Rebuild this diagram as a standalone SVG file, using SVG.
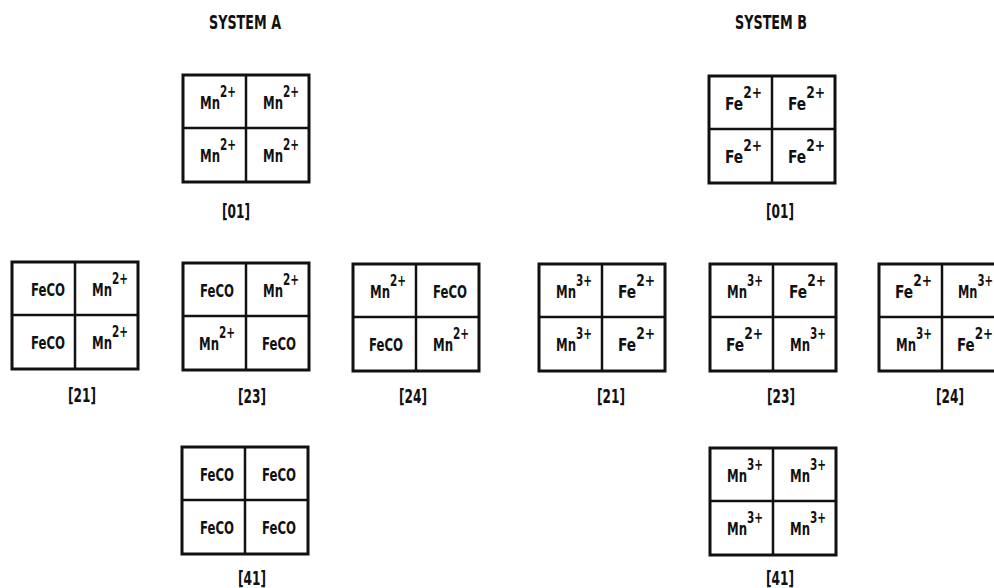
<svg xmlns="http://www.w3.org/2000/svg" width="994" height="588" viewBox="0 0 994 588">
<style>
.bg{fill:#fff}
.box{fill:#fff;stroke:#111;stroke-width:3}
.div{stroke:#111;stroke-width:2.5;fill:none}
text{font-family:"DejaVu Sans Condensed","Liberation Sans Narrow","Liberation Sans",sans-serif;font-weight:bold;fill:#111;font-size:18.5px}
.sup{font-size:16.5px}
.lbl{text-anchor:middle;font-size:19px}
</style>
<defs>
<g id="grid">
<rect class="box" x="0" y="0" width="126" height="107"/>
<line class="div" x1="63" y1="0" x2="63" y2="107"/>
<line class="div" x1="0" y1="53" x2="126" y2="53"/>
</g>
</defs>
<rect class="bg" x="0" y="0" width="994" height="588"/>
<g id="titles">
<text class="lbl" x="245" y="29" font-size="18.5" textLength="72" lengthAdjust="spacingAndGlyphs">SYSTEM A</text>
<text class="lbl" x="771" y="29" font-size="18.5" textLength="72" lengthAdjust="spacingAndGlyphs">SYSTEM B</text>
</g>
<g id="A01" transform="translate(183,75)">
<use href="#grid"/>
<text x="17" y="34" textLength="36" lengthAdjust="spacingAndGlyphs">Mn<tspan class="sup" dy="-12">2+</tspan></text>
<text x="80" y="34" textLength="36" lengthAdjust="spacingAndGlyphs">Mn<tspan class="sup" dy="-12">2+</tspan></text>
<text x="17" y="87" textLength="36" lengthAdjust="spacingAndGlyphs">Mn<tspan class="sup" dy="-12">2+</tspan></text>
<text x="80" y="87" textLength="36" lengthAdjust="spacingAndGlyphs">Mn<tspan class="sup" dy="-12">2+</tspan></text>
<text class="lbl" x="53" y="143" textLength="28" lengthAdjust="spacingAndGlyphs">[01]</text>
</g>
<g id="A21" transform="translate(12,262)">
<use href="#grid"/>
<text x="19" y="34" textLength="34" lengthAdjust="spacingAndGlyphs">FeCO</text>
<text x="80" y="34" textLength="36" lengthAdjust="spacingAndGlyphs">Mn<tspan class="sup" dy="-12">2+</tspan></text>
<text x="19" y="87" textLength="34" lengthAdjust="spacingAndGlyphs">FeCO</text>
<text x="80" y="87" textLength="36" lengthAdjust="spacingAndGlyphs">Mn<tspan class="sup" dy="-12">2+</tspan></text>
<text class="lbl" x="70" y="140" textLength="28" lengthAdjust="spacingAndGlyphs">[21]</text>
</g>
<g id="A23" transform="translate(183,263)">
<use href="#grid"/>
<text x="17" y="34" textLength="34" lengthAdjust="spacingAndGlyphs">FeCO</text>
<text x="80" y="34" textLength="36" lengthAdjust="spacingAndGlyphs">Mn<tspan class="sup" dy="-12">2+</tspan></text>
<text x="16" y="87" textLength="36" lengthAdjust="spacingAndGlyphs">Mn<tspan class="sup" dy="-12">2+</tspan></text>
<text x="79" y="87" textLength="34" lengthAdjust="spacingAndGlyphs">FeCO</text>
<text class="lbl" x="69" y="140" textLength="28" lengthAdjust="spacingAndGlyphs">[23]</text>
</g>
<g id="A24" transform="translate(353,264)">
<use href="#grid"/>
<text x="17" y="34" textLength="36" lengthAdjust="spacingAndGlyphs">Mn<tspan class="sup" dy="-12">2+</tspan></text>
<text x="80" y="34" textLength="34" lengthAdjust="spacingAndGlyphs">FeCO</text>
<text x="16" y="87" textLength="34" lengthAdjust="spacingAndGlyphs">FeCO</text>
<text x="80" y="87" textLength="36" lengthAdjust="spacingAndGlyphs">Mn<tspan class="sup" dy="-12">2+</tspan></text>
<text class="lbl" x="60" y="139" textLength="28" lengthAdjust="spacingAndGlyphs">[24]</text>
</g>
<g id="A41" transform="translate(182,447)">
<use href="#grid"/>
<text x="18" y="34" textLength="34" lengthAdjust="spacingAndGlyphs">FeCO</text>
<text x="80" y="34" textLength="34" lengthAdjust="spacingAndGlyphs">FeCO</text>
<text x="18" y="87" textLength="34" lengthAdjust="spacingAndGlyphs">FeCO</text>
<text x="80" y="87" textLength="34" lengthAdjust="spacingAndGlyphs">FeCO</text>
<text class="lbl" x="70" y="138" textLength="28" lengthAdjust="spacingAndGlyphs">[41]</text>
</g>
<g id="B01" transform="translate(709,76)">
<use href="#grid"/>
<text x="16" y="34" textLength="37" lengthAdjust="spacingAndGlyphs">Fe<tspan class="sup" dy="-12">2+</tspan></text>
<text x="79" y="34" textLength="37" lengthAdjust="spacingAndGlyphs">Fe<tspan class="sup" dy="-12">2+</tspan></text>
<text x="16" y="87" textLength="37" lengthAdjust="spacingAndGlyphs">Fe<tspan class="sup" dy="-12">2+</tspan></text>
<text x="79" y="87" textLength="37" lengthAdjust="spacingAndGlyphs">Fe<tspan class="sup" dy="-12">2+</tspan></text>
<text class="lbl" x="71" y="142" textLength="28" lengthAdjust="spacingAndGlyphs">[01]</text>
</g>
<g id="B21" transform="translate(539,264)">
<use href="#grid"/>
<text x="17" y="34" textLength="36" lengthAdjust="spacingAndGlyphs">Mn<tspan class="sup" dy="-12">3+</tspan></text>
<text x="79" y="34" textLength="37" lengthAdjust="spacingAndGlyphs">Fe<tspan class="sup" dy="-12">2+</tspan></text>
<text x="17" y="87" textLength="36" lengthAdjust="spacingAndGlyphs">Mn<tspan class="sup" dy="-12">3+</tspan></text>
<text x="79" y="87" textLength="37" lengthAdjust="spacingAndGlyphs">Fe<tspan class="sup" dy="-12">2+</tspan></text>
<text class="lbl" x="72" y="139" textLength="28" lengthAdjust="spacingAndGlyphs">[21]</text>
</g>
<g id="B23" transform="translate(710,264)">
<use href="#grid"/>
<text x="17" y="34" textLength="36" lengthAdjust="spacingAndGlyphs">Mn<tspan class="sup" dy="-12">3+</tspan></text>
<text x="79" y="34" textLength="37" lengthAdjust="spacingAndGlyphs">Fe<tspan class="sup" dy="-12">2+</tspan></text>
<text x="16" y="87" textLength="37" lengthAdjust="spacingAndGlyphs">Fe<tspan class="sup" dy="-12">2+</tspan></text>
<text x="80" y="87" textLength="36" lengthAdjust="spacingAndGlyphs">Mn<tspan class="sup" dy="-12">3+</tspan></text>
<text class="lbl" x="71" y="139" textLength="28" lengthAdjust="spacingAndGlyphs">[23]</text>
</g>
<g id="B24" transform="translate(879,264)">
<use href="#grid"/>
<text x="16" y="34" textLength="37" lengthAdjust="spacingAndGlyphs">Fe<tspan class="sup" dy="-12">2+</tspan></text>
<text x="79" y="34" textLength="35" lengthAdjust="spacingAndGlyphs">Mn<tspan class="sup" dy="-12">3+</tspan></text>
<text x="17" y="87" textLength="36" lengthAdjust="spacingAndGlyphs">Mn<tspan class="sup" dy="-12">3+</tspan></text>
<text x="78" y="87" textLength="36" lengthAdjust="spacingAndGlyphs">Fe<tspan class="sup" dy="-12">2+</tspan></text>
<text class="lbl" x="71" y="139" textLength="28" lengthAdjust="spacingAndGlyphs">[24]</text>
</g>
<g id="B41" transform="translate(710,448)">
<use href="#grid"/>
<text x="17" y="34" textLength="36" lengthAdjust="spacingAndGlyphs">Mn<tspan class="sup" dy="-12">3+</tspan></text>
<text x="80" y="34" textLength="36" lengthAdjust="spacingAndGlyphs">Mn<tspan class="sup" dy="-12">3+</tspan></text>
<text x="17" y="87" textLength="36" lengthAdjust="spacingAndGlyphs">Mn<tspan class="sup" dy="-12">3+</tspan></text>
<text x="80" y="87" textLength="36" lengthAdjust="spacingAndGlyphs">Mn<tspan class="sup" dy="-12">3+</tspan></text>
<text class="lbl" x="70" y="137" textLength="28" lengthAdjust="spacingAndGlyphs">[41]</text>
</g>
<g id="connectors"/>
</svg>
